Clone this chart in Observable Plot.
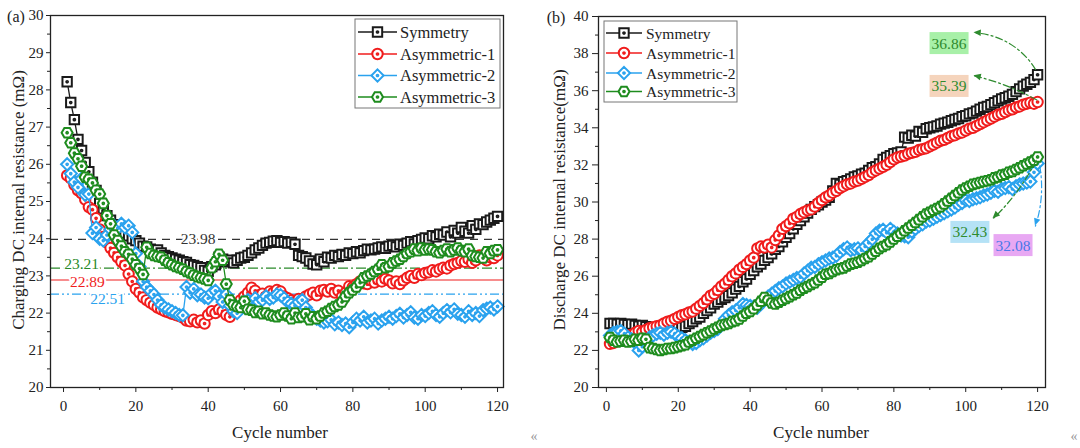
<!DOCTYPE html>
<html><head><meta charset="utf-8">
<script src="https://cdn.jsdelivr.net/npm/d3@7"></script>
<script src="https://cdn.jsdelivr.net/npm/@observablehq/plot@0.6"></script>
<style>
body{margin:0;background:#fff;}
#wrap{position:relative;width:1080px;height:448px;overflow:hidden;background:#fff;font-family:"Liberation Serif","Times New Roman",serif;}
#pa,#pb{position:absolute;top:0;}
#pa{left:0}#pb{left:540px}
</style></head><body><div id="wrap"><div id="pa"></div><div id="pb"></div></div>
<script>
// ---------------- data ----------------
const cycles = d3.range(1, 121);
const seriesNames = ["Symmetry", "Asymmetric-1", "Asymmetric-2", "Asymmetric-3"];
const seriesColors = ["#1a1a1a", "#f01c1c", "#2aa2ee", "#1e8c1e"];

const xMajor = [0, 20, 40, 60, 80, 100, 120];
const xMinor = [10, 30, 50, 70, 90, 110];
const yMajorA = [20, 21, 22, 23, 24, 25, 26, 27, 28, 29, 30];
const yMinorA = [20.5, 21.5, 22.5, 23.5, 24.5, 25.5, 26.5, 27.5, 28.5, 29.5];
const yMajorB = [20, 22, 24, 26, 28, 30, 32, 34, 36, 38, 40];
const yMinorB = [21, 23, 25, 27, 29, 31, 33, 35, 37, 39];

// (a) charging DC internal resistance
const chargeSymmetry = [
 28.22,27.66,27.20,26.67,26.37,26.05,25.80,25.52,25.30,24.95,
 24.80,24.62,24.50,24.38,24.30,24.22,24.15,24.08,24.00,23.95,
 23.88,23.80,23.78,23.72,23.68,23.70,23.62,23.55,23.52,23.48,
 23.45,23.42,23.38,23.36,23.30,23.28,23.25,23.22,23.15,23.12,
 23.25,23.30,23.50,23.45,23.38,23.42,23.35,23.42,23.48,23.50,
 23.55,23.62,23.70,23.75,23.82,23.88,23.90,23.93,23.95,23.90,
 23.92,23.88,23.90,23.85,23.55,23.52,23.48,23.40,23.32,23.30,
 23.45,23.38,23.50,23.48,23.55,23.52,23.58,23.55,23.62,23.60,
 23.65,23.62,23.68,23.72,23.70,23.72,23.75,23.78,23.74,23.80,
 23.82,23.78,23.85,23.82,23.88,23.92,23.86,23.95,23.98,24.02,
 24.00,24.08,24.05,24.12,24.10,24.18,24.05,24.22,24.15,24.30,
 24.20,24.15,24.35,24.25,24.40,24.38,24.45,24.50,24.55,24.60];
const chargeAsym1 = [
 25.70,25.62,25.45,25.30,25.22,25.05,24.85,24.78,24.55,24.25,
 24.05,23.90,23.75,23.62,23.50,23.38,23.28,23.05,22.85,22.65,
 22.55,22.42,22.35,22.28,22.22,22.15,22.10,22.05,22.02,21.98,
 21.95,21.92,21.88,21.80,21.78,21.82,21.75,21.80,21.72,21.95,
 22.05,22.00,22.10,22.05,21.95,21.90,22.05,22.20,22.35,22.45,
 22.55,22.68,22.60,22.48,22.52,22.45,22.58,22.55,22.62,22.58,
 22.45,22.40,22.35,22.30,22.38,22.32,22.45,22.50,22.55,22.48,
 22.60,22.62,22.58,22.65,22.55,22.60,22.45,22.55,22.72,22.70,
 22.78,22.85,22.80,22.78,22.88,22.82,22.90,22.85,22.92,22.88,
 22.80,22.85,22.78,22.88,22.95,23.00,22.95,23.05,23.02,23.08,
 23.10,23.15,23.12,23.18,23.22,23.20,23.28,23.32,23.35,23.40,
 23.38,23.45,23.35,23.42,23.55,23.48,23.42,23.50,23.48,23.55];
const chargeAsym2 = [
 26.00,25.75,25.52,25.38,25.62,25.18,25.20,24.15,24.30,24.00,
 23.95,24.10,24.25,24.35,24.28,24.40,24.30,24.35,24.17,23.60,
 23.25,22.85,22.70,22.60,22.50,22.35,22.22,22.15,22.10,22.05,
 22.00,21.95,21.94,22.70,22.55,22.65,22.48,22.50,22.42,22.40,
 22.55,22.60,22.45,22.30,22.50,22.20,22.05,22.00,22.20,22.30,
 22.35,22.25,22.40,22.30,22.35,22.45,22.38,22.42,22.50,22.48,
 22.40,22.30,22.25,22.20,22.30,22.35,22.15,22.00,21.92,21.85,
 21.80,21.75,21.78,21.82,21.70,21.75,21.68,21.72,21.62,21.75,
 21.85,21.80,21.90,21.75,21.80,21.85,21.72,21.80,21.85,21.90,
 21.85,21.92,21.98,21.88,21.95,22.02,21.88,21.85,21.95,21.92,
 22.00,22.05,21.95,21.90,22.00,22.08,22.02,22.10,21.98,21.95,
 21.90,22.05,21.95,22.00,21.92,22.08,22.12,22.15,22.10,22.18];
const chargeAsym3 = [
 26.85,26.58,26.30,26.15,25.95,25.65,25.60,25.50,25.30,25.20,
 24.95,24.62,24.40,24.10,23.95,23.80,23.65,23.58,23.45,23.30,
 23.20,23.04,23.77,23.60,23.55,23.52,23.50,23.42,23.35,23.30,
 23.25,23.22,23.18,23.12,23.08,23.02,22.98,22.95,22.92,22.88,
 23.22,23.38,23.58,23.42,22.78,22.35,22.22,22.18,22.15,22.32,
 22.10,22.08,22.02,22.05,21.98,22.00,21.95,21.92,21.90,21.95,
 22.00,21.92,21.85,22.00,21.88,21.90,21.98,21.82,21.90,21.85,
 21.92,22.00,22.05,22.12,22.18,22.22,22.30,22.45,22.55,22.62,
 22.70,22.82,22.95,23.00,23.05,23.12,23.18,23.30,23.22,23.25,
 23.35,23.40,23.45,23.52,23.60,23.65,23.72,23.68,23.75,23.70,
 23.72,23.70,23.65,23.62,23.68,23.72,23.65,23.70,23.75,23.68,
 23.65,23.72,23.55,23.52,23.50,23.48,23.65,23.60,23.68,23.70];

// (b) discharge DC internal resistance
const dischargeSymmetry = [
 23.45,23.45,23.42,23.45,23.40,23.38,23.42,23.35,23.30,23.35,
 23.28,23.22,23.15,23.10,23.05,23.08,23.02,23.10,23.15,23.20,
 23.25,23.30,23.45,23.55,23.70,23.80,24.00,24.15,24.30,24.50,
 24.60,24.75,24.85,24.95,25.10,25.30,25.45,25.70,25.85,26.10,
 26.30,26.50,26.65,26.85,27.00,27.20,27.45,27.60,27.85,28.10,
 28.30,28.55,28.80,29.00,29.20,29.40,29.60,29.75,29.85,30.00,
 30.10,30.25,30.60,31.00,30.95,31.10,31.15,31.25,31.35,31.40,
 31.50,31.55,31.70,31.85,31.90,32.05,32.30,32.40,32.50,32.60,
 32.65,32.70,33.50,33.45,33.60,33.55,33.80,33.75,33.95,34.00,
 34.05,34.10,34.20,34.25,34.30,34.38,34.45,34.50,34.60,34.65,
 34.75,34.80,34.90,35.00,35.10,35.15,35.25,35.35,35.45,35.55,
 35.62,35.70,35.80,35.95,36.10,36.25,36.35,36.45,36.60,36.86];
const dischargeAsym1 = [
 22.35,22.40,22.55,22.65,22.70,22.80,22.85,22.95,23.05,23.00,
 23.10,23.20,23.25,23.30,23.35,23.45,23.55,23.60,23.70,23.80,
 23.90,23.95,24.05,24.10,24.25,24.40,24.55,24.75,24.95,25.05,
 25.25,25.45,25.60,25.80,26.00,26.15,26.35,26.50,26.65,26.85,
 27.00,27.50,27.60,27.55,27.70,27.55,27.95,28.20,28.55,28.70,
 28.85,29.10,29.20,29.35,29.45,29.55,29.60,29.75,29.95,30.10,
 30.25,30.35,30.50,30.60,30.75,30.85,30.95,31.00,31.10,31.15,
 31.25,31.35,31.45,31.60,31.70,31.80,31.90,32.00,32.15,32.30,
 32.40,32.45,32.50,32.60,32.65,32.70,32.80,32.85,32.90,33.00,
 33.10,33.20,33.30,33.35,33.45,33.55,33.60,33.70,33.75,33.85,
 33.95,34.00,34.10,34.20,34.30,34.40,34.50,34.60,34.70,34.75,
 34.85,34.95,35.00,35.10,35.15,35.25,35.30,35.35,35.30,35.39];
const dischargeAsym2 = [
 22.80,22.95,23.00,23.05,22.90,22.70,22.60,22.40,22.00,22.20,
 22.50,22.70,22.80,22.90,22.95,22.85,22.95,23.00,22.90,22.75,
 22.65,22.55,22.45,22.35,22.40,22.55,22.65,22.80,22.95,23.05,
 23.15,23.40,23.70,23.90,24.05,24.15,24.30,24.50,24.45,24.40,
 24.35,24.30,24.50,24.75,24.90,25.05,25.20,25.35,25.45,25.60,
 25.70,25.80,25.90,25.95,26.15,26.30,26.45,26.50,26.65,26.75,
 26.85,26.95,27.00,27.10,27.30,27.45,27.55,27.40,27.45,27.50,
 27.40,27.60,27.80,28.00,28.30,28.45,28.50,28.35,28.55,28.40,
 28.30,28.20,28.15,28.10,28.40,28.55,28.70,28.80,28.95,29.00,
 29.10,29.20,29.30,29.40,29.50,29.60,29.70,29.85,29.95,30.10,
 30.05,30.15,30.20,30.25,30.35,30.40,30.50,30.60,30.55,30.70,
 30.75,30.80,30.70,30.85,30.95,31.00,31.05,31.10,31.60,32.08];
const dischargeAsym3 = [
 22.70,22.55,22.45,22.50,22.55,22.45,22.50,22.60,22.55,22.65,
 22.60,22.15,22.10,22.05,22.00,22.05,22.10,22.10,22.15,22.20,
 22.25,22.30,22.45,22.55,22.65,22.75,22.85,22.95,23.05,23.15,
 23.25,23.35,23.40,23.45,23.55,23.60,23.70,23.85,24.00,24.10,
 24.25,24.45,24.65,24.85,24.70,24.55,24.50,24.60,24.70,24.80,
 24.90,25.00,25.10,25.25,25.35,25.45,25.55,25.65,25.80,25.95,
 26.10,26.15,26.25,26.35,26.40,26.45,26.55,26.65,26.70,26.75,
 26.85,26.95,27.05,27.20,27.35,27.50,27.60,27.70,27.85,28.00,
 28.15,28.30,28.45,28.60,28.75,28.90,29.05,29.20,29.35,29.45,
 29.55,29.65,29.75,29.90,30.05,30.20,30.35,30.50,30.65,30.75,
 30.85,30.95,31.00,31.05,31.10,31.15,31.20,31.30,31.35,31.45,
 31.50,31.60,31.65,31.75,31.85,31.95,32.05,32.15,32.25,32.43];

// (a) mean reference lines
const refValues = [23.98, 23.21, 22.89, 22.51];
const refTexts = ["23.98", "23.21", "22.89", "22.51"];
const refColors = ["#333333", "#2a8a2a", "#f01c1c", "#2aa2ee"];
const refDash = ["8,6", "10,3,2,3", null, "9,3,2,3,2,3"];
const refLabelX = [37.2, 5.0, 6.6, 12.2];
const refLabelY = [23.98, 23.33, 22.84, 22.39];

// (b) end-value annotations
const annoTexts = ["36.86", "35.39", "32.43", "32.08"];
const annoX = [95.5, 95.5, 101.3, 113.3];
const annoY = [38.54, 36.23, 28.36, 27.65];
const annoFill = ["#a8f0a8", "#f5d4bc", "#b5e2f6", "#e8a8f3"];
const annoInk = ["#2e8b2e", "#2e8b2e", "#2e8b2e", "#4a78e8"];
const arrowX1 = [119.4, 119.8, 119.6, 120.6];
const arrowY1 = [37.15, 35.50, 32.25, 31.95];
const arrowX2 = [102.3, 102.3, 107.6, 119.4];
const arrowY2 = [39.12, 36.80, 29.10, 28.70];
const arrowBend = [-28, -8, 10, 14];
const arrowColors = ["#2e8b2e", "#2e8b2e", "#2e8b2e", "#2aa2ee"];

// ---------------- symbols ----------------
function centerDot(ctx, r) { const q = 0.16 * r; ctx.moveTo(q, 0); ctx.arc(0, 0, q, 0, 2 * Math.PI); }
const symSquare = {draw(ctx, size) { const r = Math.sqrt(size / Math.PI), h = 0.9 * r;
  ctx.moveTo(-h, -h); ctx.lineTo(h, -h); ctx.lineTo(h, h); ctx.lineTo(-h, h); ctx.closePath(); centerDot(ctx, r); }};
const symCircle = {draw(ctx, size) { const r = Math.sqrt(size / Math.PI);
  ctx.moveTo(r, 0); ctx.arc(0, 0, r, 0, 2 * Math.PI); centerDot(ctx, r); }};
const symDiamond = {draw(ctx, size) { const r = Math.sqrt(size / Math.PI), d = 1.17 * r;
  ctx.moveTo(0, -d); ctx.lineTo(d, 0); ctx.lineTo(0, d); ctx.lineTo(-d, 0); ctx.closePath(); centerDot(ctx, r); }};
const symHexagon = {draw(ctx, size) { const r = Math.sqrt(size / Math.PI), R = 1.06 * r;
  for (let k = 0; k < 6; k++) { const a = k * Math.PI / 3; const px = R * Math.cos(a), py = R * Math.sin(a);
    if (k === 0) ctx.moveTo(px, py); else ctx.lineTo(px, py); }
  ctx.closePath(); centerDot(ctx, r); }};
const seriesSymbols = [symSquare, symCircle, symDiamond, symHexagon];
const MR = 5.2;
const MSW = 2;

const FONT = '"Liberation Serif", "Times New Roman", serif';

function seriesMarks(list) {
  const marks = [];
  list.forEach((vals, i) => {
    const data = vals.map((v, k) => ({c: cycles[k], v}));
    marks.push(Plot.line(data, {x: "c", y: "v", stroke: seriesColors[i], strokeWidth: 1.3}));
    marks.push(Plot.dot(data, {x: "c", y: "v", r: MR, symbol: seriesSymbols[i], stroke: seriesColors[i], fill: "white", strokeWidth: MSW}));
  });
  return marks;
}

function axes(yMajor, yMinor, ytick, ypad) {
  return [
    Plot.frame({stroke: "#222", strokeWidth: 1.3}),
    Plot.axisX({ticks: xMajor, tickSize: 5, tickPadding: 8, label: null, fontSize: 15}),
    Plot.axisX({ticks: xMinor, tickSize: 3, tickFormat: () => "", label: null}),
    Plot.axisY({ticks: yMajor, tickSize: ytick, tickPadding: ypad, label: null, fontSize: 15}),
    Plot.axisY({ticks: yMinor, tickSize: 3, tickFormat: () => "", label: null})
  ];
}

function addText(svg, x, y, txt, opts = {}) {
  const t = svg.append("text").attr("x", x).attr("y", y).text(txt)
    .attr("font-family", FONT).attr("font-size", opts.size || 17)
    .attr("fill", opts.fill || "#222").attr("text-anchor", opts.anchor || "middle")
    .attr("dominant-baseline", "central");
  if (opts.rotate) t.attr("transform", `rotate(-90 ${x} ${y})`);
  return t;
}

function drawLegend(svg, box, rows, lx1, lx2, tx, fs) {
  const g = svg.append("g");
  g.append("rect").attr("x", box[0]).attr("y", box[1]).attr("width", box[2] - box[0]).attr("height", box[3] - box[1])
    .attr("fill", "white").attr("stroke", "#777").attr("stroke-width", 1);
  seriesNames.forEach((name, i) => {
    const y = rows[i];
    g.append("line").attr("x1", lx1).attr("x2", lx2).attr("y1", y).attr("y2", y)
      .attr("stroke", seriesColors[i]).attr("stroke-width", 1.6);
    g.append("path").attr("d", d3.symbol(seriesSymbols[i], Math.PI * MR * MR)())
      .attr("transform", `translate(${(lx1 + lx2) / 2},${y})`)
      .attr("fill", "white").attr("stroke", seriesColors[i]).attr("stroke-width", MSW);
    addText(svg, tx, y, name, {anchor: "start", size: fs});
  });
}

// ---------------- panel (a) ----------------
const refRules = refValues.map((v, i) => Plot.ruleY([v], {stroke: refColors[i], strokeWidth: 1.2, strokeDasharray: refDash[i] || undefined}));
const refLabelData = refTexts.map((t, i) => ({t, x: refLabelX[i], y: refLabelY[i], c: refColors[i]}));

const plotA = Plot.plot({
  width: 540, height: 448,
  marginLeft: 50, marginRight: 37, marginTop: 15, marginBottom: 61,
  style: {fontFamily: FONT, fontSize: "15px", color: "#222", background: "white", overflow: "visible"},
  x: {domain: [-3.6, 121.65]},
  y: {domain: [20, 30]},
  marks: [
    ...refRules,
    ...seriesMarks([chargeSymmetry, chargeAsym1, chargeAsym2, chargeAsym3]),
    Plot.text(refLabelData, {x: "x", y: "y", text: "t", fill: d => d.c, stroke: "white", strokeWidth: 4, fontSize: 15.5}),
    ...axes(yMajorA, yMinorA, 4, 3)
  ]
});
document.getElementById("pa").appendChild(plotA);
{
  const svg = d3.select(plotA);
  addText(svg, 18, 200, "Charging DC internal resistance (mΩ)", {rotate: true, size: 17});
  addText(svg, 280, 432, "Cycle number", {size: 17});
  addText(svg, 16, 16, "(a)", {size: 16});
  addText(svg, 534, 436, "«", {size: 14, fill: "#999"});
  drawLegend(svg, [355, 19, 500, 108], [32, 54, 75.5, 97], 358, 397, 400, 16.5);
}

// ---------------- panel (b) ----------------
const arrowMarks = arrowX1.map((x, i) => Plot.arrow([{x1: x, y1: arrowY1[i], x2: arrowX2[i], y2: arrowY2[i]}],
  {x1: "x1", y1: "y1", x2: "x2", y2: "y2", bend: arrowBend[i], stroke: arrowColors[i], strokeWidth: 1.2,
   strokeDasharray: "7,3,2,3", headLength: 0}));

const plotB = Plot.plot({
  width: 540, height: 448,
  marginLeft: 58, marginRight: 35, marginTop: 16, marginBottom: 61,
  style: {fontFamily: FONT, fontSize: "15px", color: "#222", background: "white", overflow: "visible"},
  x: {domain: [-2.2, 122.2]},
  y: {domain: [20, 40]},
  marks: [
    ...seriesMarks([dischargeSymmetry, dischargeAsym1, dischargeAsym2, dischargeAsym3]),
    ...arrowMarks,
    ...axes(yMajorB, yMinorB, 6, 4)
  ]
});
document.getElementById("pb").appendChild(plotB);
{
  const svg = d3.select(plotB);
  const sx = plotB.scale("x"), sy = plotB.scale("y");
  addText(svg, 19, 200, "Discharge DC internal resistance(mΩ)", {rotate: true, size: 17});
  addText(svg, 281, 432, "Cycle number", {size: 17});
  addText(svg, 16, 17, "(b)", {size: 16});
  addText(svg, 534, 436, "«", {size: 14, fill: "#999"});
  drawLegend(svg, [64, 21, 197, 102], [33, 53, 73, 91.5], 66, 102, 106, 15.5);
  // arrow heads (filled), tangent to the bent arrow at its end
  arrowX1.forEach((x, i) => {
    const x1 = sx.apply(x), y1 = sy.apply(arrowY1[i]), x2 = sx.apply(arrowX2[i]), y2 = sy.apply(arrowY2[i]);
    const ang = Math.atan2(y2 - y1, x2 - x1) + arrowBend[i] * Math.PI / 180;
    const L = 8, w = 0.42;
    const p = [[x2, y2], [x2 - L * Math.cos(ang - w), y2 - L * Math.sin(ang - w)], [x2 - L * Math.cos(ang + w), y2 - L * Math.sin(ang + w)]];
    svg.append("path").attr("d", "M" + p.map(q => q.join(",")).join("L") + "Z").attr("fill", arrowColors[i]);
  });
  // value boxes
  annoTexts.forEach((t, i) => {
    const cx = sx.apply(annoX[i]), cy = sy.apply(annoY[i]);
    svg.append("rect").attr("x", cx - 19.5).attr("y", cy - 11).attr("width", 39).attr("height", 22).attr("fill", annoFill[i]);
    addText(svg, cx, cy, t, {size: 15.5, fill: annoInk[i]});
  });
}
</script></body></html>
